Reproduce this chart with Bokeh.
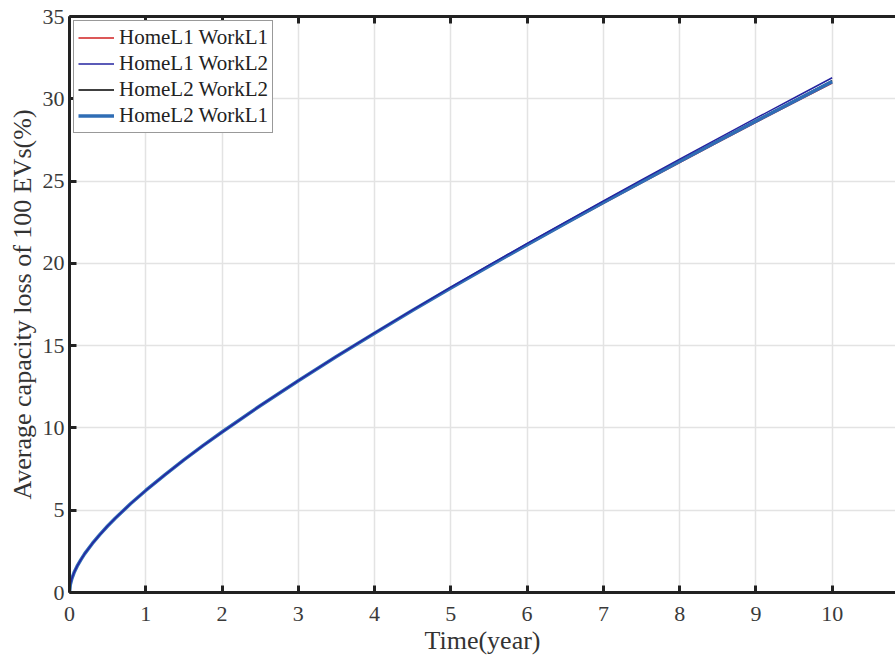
from bokeh.plotting import figure
from bokeh.models import LinearAxis, Legend, LegendItem, FixedTicker, Range1d, Grid
from bokeh.embed import file_html
from bokeh.resources import INLINE

# Data
t_year = [0, 0.01, 0.03, 0.06, 0.1, 0.15, 0.2, 0.3, 0.4, 0.5, 0.6, 0.8, 1.0, 1.25, 1.5, 1.75,
          2, 2.5, 3, 3.5, 4, 4.5, 5, 5.5, 6, 6.5, 7, 7.5, 8, 8.5, 9, 9.5, 10]
home1_work1 = [0, 0.47, 0.83, 1.21, 1.60, 2.0, 2.36, 2.98, 3.53, 4.04, 4.51, 5.39, 6.20, 7.15, 8.06, 8.92,
               9.75, 11.35, 12.87, 14.34, 15.76, 17.14, 18.48, 19.80, 21.10, 22.38, 23.65, 24.90,
               26.13, 27.36, 28.57, 29.77, 30.95]
home1_work2 = [0, 0.47, 0.83, 1.21, 1.60, 2.0, 2.36, 2.98, 3.53, 4.04, 4.51, 5.39, 6.20, 7.15, 8.06, 8.92,
               9.75, 11.35, 12.87, 14.35, 15.78, 17.17, 18.55, 19.89, 21.21, 22.51, 23.80, 25.07,
               26.33, 27.58, 28.82, 30.05, 31.28]
home2_work2 = [0, 0.47, 0.83, 1.21, 1.60, 2.0, 2.36, 2.98, 3.53, 4.04, 4.51, 5.39, 6.20, 7.15, 8.06, 8.92,
               9.75, 11.35, 12.87, 14.34, 15.76, 17.15, 18.51, 19.84, 21.15, 22.44, 23.72, 24.98,
               26.22, 27.46, 28.68, 29.89, 31.10]
home2_work1 = [0, 0.47, 0.83, 1.21, 1.60, 2.0, 2.36, 2.98, 3.53, 4.04, 4.51, 5.39, 6.20, 7.15, 8.06, 8.92,
               9.75, 11.35, 12.87, 14.34, 15.76, 17.15, 18.50, 19.83, 21.13, 22.42, 23.70, 24.95,
               26.19, 27.42, 28.64, 29.84, 31.04]
series_names = ["HomeL1 WorkL1", "HomeL1 WorkL2", "HomeL2 WorkL2", "HomeL2 WorkL1"]
x_ticks = [0, 1, 2, 3, 4, 5, 6, 7, 8, 9, 10]
y_ticks = [0, 5, 10, 15, 20, 25, 30, 35]

FONT = "Liberation Serif"

p = figure(width=895, height=661, output_backend="svg", toolbar_location=None,
           x_range=Range1d(0, 10.83), y_range=Range1d(0, 35),
           min_border_left=69, min_border_right=0, min_border_top=16, min_border_bottom=69,
           x_axis_location=None, y_axis_location=None)
p.outline_line_color = None
p.background_fill_color = "white"
p.border_fill_color = "white"

xaxis = LinearAxis(axis_label="Time(year)")
yaxis = LinearAxis(axis_label="Average capacity loss of 100 EVs(%)")
top_axis = LinearAxis()
for ax, ticks in ((xaxis, x_ticks), (yaxis, y_ticks), (top_axis, x_ticks)):
    ax.ticker = FixedTicker(ticks=ticks)
    ax.axis_line_width = 3
    ax.axis_line_color = "#222222"
    ax.major_tick_in = 7
    ax.major_tick_out = 0
    ax.major_tick_line_width = 3
    ax.major_tick_line_color = "#222222"
    ax.minor_tick_line_color = None
    ax.major_label_text_font = FONT
    ax.major_label_text_font_size = "22px"
    ax.major_label_text_color = "#3a3a3a"
    ax.axis_label_text_font = FONT
    ax.axis_label_text_font_size = "26px"
    ax.axis_label_text_font_style = "normal"
    ax.axis_label_text_color = "#333333"
top_axis.major_label_overrides = {t: "" for t in x_ticks}
top_axis.major_label_standoff = 0
xaxis.major_label_standoff = 14
yaxis.major_label_standoff = 5
xaxis.axis_label_standoff = 2
yaxis.axis_label_standoff = 3
p.add_layout(xaxis, "below")
p.add_layout(yaxis, "left")
p.add_layout(top_axis, "above")

p.add_layout(Grid(dimension=0, ticker=FixedTicker(ticks=x_ticks), grid_line_color="#e3e3e3", grid_line_width=1.5))
p.add_layout(Grid(dimension=1, ticker=FixedTicker(ticks=y_ticks), grid_line_color="#e3e3e3", grid_line_width=1.5))

r1 = p.line(t_year, home1_work1, line_color="#d02020", line_width=1.5)
r3 = p.line(t_year, home2_work2, line_color="#000000", line_width=1.5)
r4 = p.line(t_year, home2_work1, line_color="#2f6db5", line_width=3.5)
r2 = p.line(t_year, home1_work2, line_color="#2424a0", line_width=1.5)

legend = Legend(items=[LegendItem(label=series_names[0], renderers=[r1]),
                       LegendItem(label=series_names[1], renderers=[r2]),
                       LegendItem(label=series_names[2], renderers=[r3]),
                       LegendItem(label=series_names[3], renderers=[r4])],
                location="top_left")
legend.label_text_font = FONT
legend.label_text_font_size = "21px"
legend.label_text_color = "#222222"
legend.label_height = 23
legend.glyph_height = 23
legend.glyph_width = 36
legend.spacing = 1
legend.padding = 4
legend.margin = 4
legend.label_standoff = 5
legend.border_line_color = "#333333"
legend.border_line_width = 1.5
legend.background_fill_alpha = 1
p.add_layout(legend, "center")

open("out.html", "w").write(file_html(p, INLINE))
